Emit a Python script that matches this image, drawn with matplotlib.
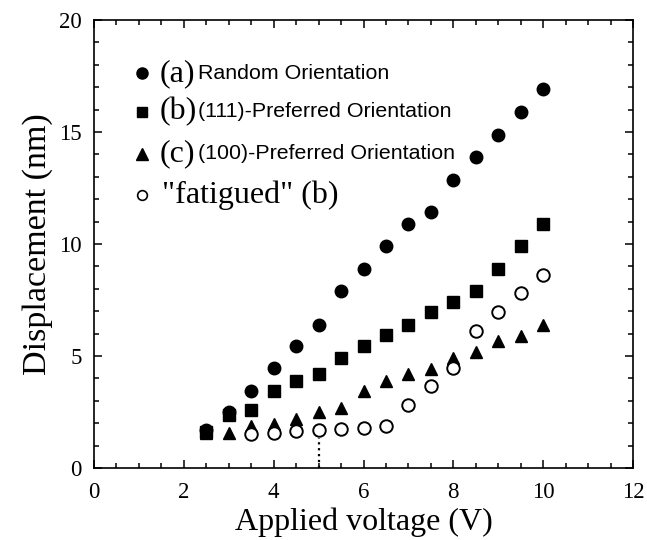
import matplotlib

matplotlib.use("Agg")
import matplotlib.pyplot as plt
from matplotlib.ticker import MultipleLocator

SERIF = ["Liberation Serif", "DejaVu Serif"]
SANS = ["Liberation Sans", "DejaVu Sans"]

volts = [2.5, 3.0, 3.5, 4.0, 4.5, 5.0, 5.5, 6.0, 6.5, 7.0, 7.5, 8.0, 8.5, 9.0, 9.5, 10.0]
random_orient = [1.7, 2.5, 3.45, 4.45, 5.45, 6.4, 7.9, 8.9, 9.9, 10.9, 11.45, 12.85, 13.9, 14.85, 15.9, 16.9]
pref_111 = [1.6, 2.35, 2.6, 3.45, 3.9, 4.2, 4.9, 5.45, 5.95, 6.4, 6.95, 7.4, 7.9, 8.9, 9.9, 10.9]
pref_100 = [1.55, 1.58, 1.88, 1.98, 2.18, 2.5, 2.7, 3.42, 3.88, 4.18, 4.43, 4.9, 5.2, 5.65, 5.9, 6.4]
fatigued_v = [3.5, 4.0, 4.5, 5.0, 5.5, 6.0, 6.5, 7.0, 7.5, 8.0, 8.5, 9.0, 9.5, 10.0]
fatigued = [1.52, 1.58, 1.64, 1.69, 1.73, 1.79, 1.87, 2.8, 3.66, 4.47, 6.1, 6.98, 7.8, 8.6]

legend_tags = ["(a)", "(b)", "(c)"]
legend_names = ["Random Orientation", "(111)-Preferred Orientation", "(100)-Preferred Orientation"]
fatigued_label = '"fatigued" (b)'

fig = plt.figure(figsize=(6.47, 5.40), dpi=100)
ax = fig.add_axes([0.1453, 0.1333, 0.8331, 0.8296])

ms = 9
ax.plot(volts, random_orient, "o", color="black", ms=ms, zorder=3)
ax.plot(volts, pref_111, "s", color="black", ms=ms - 0.5, zorder=3)
ax.plot(volts, pref_100, "^", color="black", ms=ms, zorder=3)
ax.plot(fatigued_v, fatigued, "o", mfc="white", mec="black", mew=1.4, ms=ms, zorder=4)

# dotted marker line at 5 V
ax.plot([5, 5], [0, 1.35], ":", color="black", lw=1.6)

ax.set_xlim(0, 12)
ax.set_ylim(0, 20)
ax.xaxis.set_major_locator(MultipleLocator(2))
ax.xaxis.set_minor_locator(MultipleLocator(0.5))
ax.yaxis.set_major_locator(MultipleLocator(5))
ax.yaxis.set_minor_locator(MultipleLocator(1))
ax.tick_params(which="both", direction="in", top=True, right=True, width=1.1)
ax.tick_params(which="major", length=6)
ax.tick_params(axis="x", which="major", pad=10)
ax.tick_params(axis="y", which="major", pad=9)
ax.tick_params(which="minor", length=3.5)
for s in ax.spines.values():
    s.set_linewidth(1.2)
for lab in ax.get_xticklabels() + ax.get_yticklabels():
    lab.set_family(SERIF)
    lab.set_fontsize(16.5)

ax.set_xlabel("Applied voltage (V)", family=SERIF, fontsize=23, labelpad=3)
ax.set_ylabel("Displacement (nm)", family=SERIF, fontsize=24.5, labelpad=4)

# hand-built legend with mixed fonts
tr = ax.transAxes
rows_y = [0.881, 0.795, 0.702, 0.609]
mark_x = 0.0885
markers = [("o", 8, "black"), ("s", 7, "black"), ("^", 8, "black")]
for i, (m, size, c) in enumerate(markers):
    ax.plot([mark_x], [rows_y[i]], m, color=c, ms=size, transform=tr, clip_on=False)
    ax.text(0.122, rows_y[i], legend_tags[i], transform=tr, family=SERIF,
            fontsize=23, va="center", ha="left")
    ax.text(0.193, rows_y[i], legend_names[i], transform=tr, family=SANS,
            fontsize=15.4, va="center", ha="left")
ax.plot([mark_x], [rows_y[3]], "o", mfc="white", mec="black", mew=1.2, ms=7,
        transform=tr, clip_on=False)
ax.text(0.1256, rows_y[3], fatigued_label, transform=tr, family=SERIF,
        fontsize=23, va="center", ha="left")

fig.savefig("out.png", dpi=100)
